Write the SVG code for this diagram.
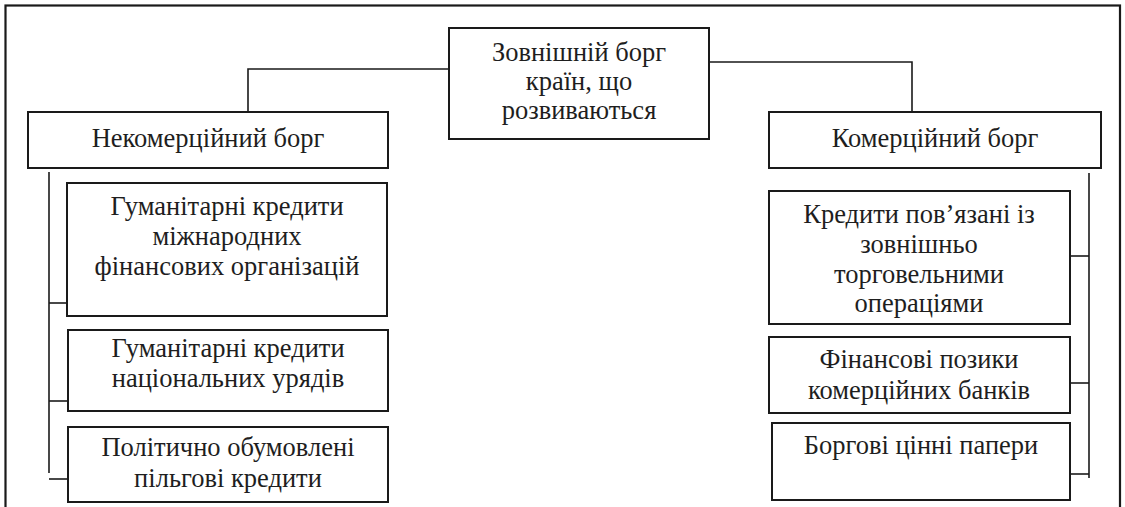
<svg xmlns="http://www.w3.org/2000/svg" width="1125" height="507" viewBox="0 0 1125 507">
<style>
.box{fill:#fff;stroke:#1a1a1a;stroke-width:2}
.ln{fill:none;stroke:#1a1a1a;stroke-width:1.6}
.frame{fill:none;stroke:#1a1a1a;stroke-width:2.2}
</style>
<rect width="1125" height="507" fill="#fff"/>
<rect class="frame" x="5.5" y="5.5" width="1114.5" height="510"/>
<g id="connectors">
<polyline class="ln" points="449,69 248,69 248,112"/>
<polyline class="ln" points="709,62 912,62 912,112"/>
<line class="ln" x1="49" y1="172" x2="49" y2="473"/>
<line class="ln" x1="49" y1="303" x2="67" y2="303"/>
<line class="ln" x1="49" y1="401" x2="68" y2="401"/>
<line class="ln" x1="49" y1="479" x2="68" y2="479"/>
<line class="ln" x1="1089" y1="173" x2="1089" y2="478"/>
<line class="ln" x1="1070" y1="256" x2="1089" y2="256"/>
<line class="ln" x1="1070" y1="383" x2="1089" y2="383"/>
<line class="ln" x1="1068" y1="474" x2="1089" y2="474"/>
</g>
<g font-family="Liberation Serif" font-size="26.5" fill="#1e1e1e" text-anchor="middle">
<g id="root">
<rect class="box" x="449" y="28" width="260" height="111"/>
<text x="579" y="61">Зовнішній борг</text>
<text x="579" y="90">країн, що</text>
<text x="579" y="119">розвиваються</text>
</g>
<g id="noncommercial">
<rect class="box" x="28" y="112" width="360" height="56"/>
<text x="208" y="147">Некомерційний борг</text>
</g>
<g id="commercial">
<rect class="box" x="769" y="112" width="332" height="56"/>
<text x="935" y="147">Комерційний борг</text>
</g>
<g id="nc1">
<rect class="box" x="67" y="183" width="320" height="133"/>
<text x="227" y="215">Гуманітарні кредити</text>
<text x="227" y="245">міжнародних</text>
<text x="227" y="275">фінансових організацій</text>
</g>
<g id="nc2">
<rect class="box" x="68" y="330" width="320" height="81"/>
<text x="228" y="357">Гуманітарні кредити</text>
<text x="228" y="387">національних урядів</text>
</g>
<g id="nc3">
<rect class="box" x="68" y="427" width="320" height="75"/>
<text x="228" y="456">Політично обумовлені</text>
<text x="228" y="487">пільгові кредити</text>
</g>
<g id="c1">
<rect class="box" x="769" y="191" width="301" height="133"/>
<text x="919" y="223">Кредити пов’язані із</text>
<text x="919" y="253">зовнішньо</text>
<text x="919" y="283">торговельними</text>
<text x="919" y="312">операціями</text>
</g>
<g id="c2">
<rect class="box" x="769" y="337" width="301" height="76"/>
<text x="919" y="368">Фінансові позики</text>
<text x="919" y="399">комерційних банків</text>
</g>
<g id="c3">
<rect class="box" x="772" y="423" width="298" height="77"/>
<text x="921" y="454">Боргові цінні папери</text>
</g>
</g>
</svg>
